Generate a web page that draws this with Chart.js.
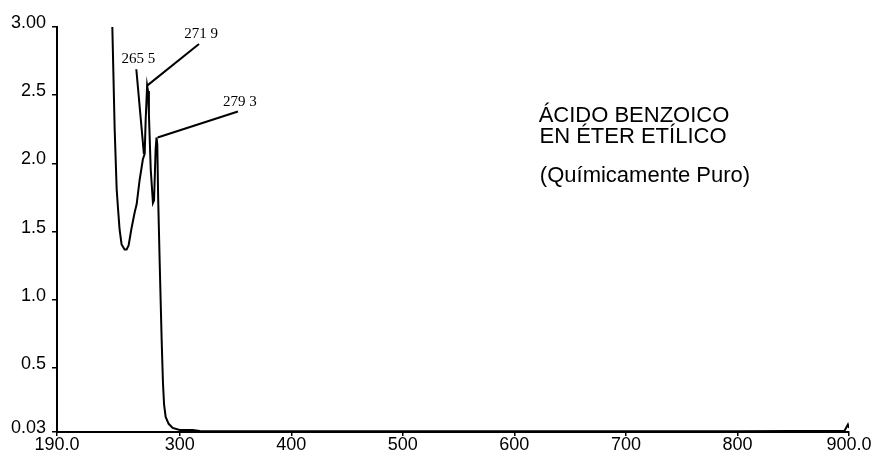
<!DOCTYPE html>
<html>
<head>
<meta charset="utf-8">
<script src="https://cdn.jsdelivr.net/npm/chart.js@4.4.1/dist/chart.umd.min.js"></script>
<style>
  html, body { margin: 0; padding: 0; background: #fff; }
  #wrap { width: 881px; height: 461px; position: relative; }
</style>
</head>
<body>
<div id="wrap"><canvas id="spectrum"></canvas></div>
<script>
// UV spectrum - benzoic acid in ethyl ether

const wavelengths = [239.6, 241.7, 243.5, 244.6, 246.1, 247.9, 250.6, 252.4, 254.2, 256.6,
  259.6, 261.4, 264.1, 267.0, 268.6, 269.5, 270.8, 271.6, 272.4, 274.0,
  276.0, 277.0, 278.4, 279.2, 279.9, 280.7, 282.0, 282.9, 283.8, 285.0,
  286.0, 287.4, 290.1, 293.7, 300.0, 311.6, 318.0, 400, 500, 600,
  700, 800, 896, 899, 900];
const absorbance = [3.0, 2.25, 1.81, 1.68, 1.515, 1.405, 1.368, 1.368, 1.398, 1.515,
  1.64, 1.70, 1.88, 2.03, 2.07, 2.32, 2.57, 2.53, 2.36, 1.96,
  1.71, 1.73, 2.10, 2.19, 2.14, 1.74, 1.29, 1.0, 0.71, 0.39,
  0.23, 0.14, 0.09, 0.06, 0.045, 0.045, 0.037, 0.035, 0.036, 0.035,
  0.036, 0.035, 0.04, 0.085, 0.06];

const xTicks = [190, 300, 400, 500, 600, 700, 800, 900];
const xTickLabels = ['190.0', '300', '400', '500', '600', '700', '800', '900.0'];
const yTicks = [0.03, 0.5, 1.0, 1.5, 2.0, 2.5, 3.0];
const yTickLabels = ['0.03', '0.5', '1.0', '1.5', '2.0', '2.5', '3.00'];

// peak labels: leader line from the curve to the label
const peakLabels = ['265 5', '271 9', '279 3'];
const peakFrom = [[267.9, 2.07], [270.8, 2.57], [280.2, 2.19]];
const peakTo = [[261.1, 2.69], [317.3, 2.875], [352.2, 2.38]];

const titleLines = ['ÁCIDO BENZOICO', 'EN ÉTER ETÍLICO', '(Químicamente Puro)'];

const points = wavelengths.map((w, i) => ({ x: w, y: absorbance[i] }));

const notes = {
  id: 'notes',
  afterDatasetsDraw(chart) {
    const ctx = chart.ctx;
    const xs = chart.scales.x, ys = chart.scales.y;
    ctx.save();
    ctx.strokeStyle = '#000';
    ctx.lineWidth = 2;
    ctx.fillStyle = '#000';
    ctx.font = '15px "Liberation Serif", "Times New Roman", serif';
    ctx.textAlign = 'center';
    ctx.textBaseline = 'alphabetic';
    peakLabels.forEach((txt, i) => {
      const x1 = xs.getPixelForValue(peakFrom[i][0]);
      const y1 = ys.getPixelForValue(peakFrom[i][1]);
      const x2 = xs.getPixelForValue(peakTo[i][0]);
      const y2 = ys.getPixelForValue(peakTo[i][1]);
      ctx.beginPath();
      ctx.moveTo(x1, y1);
      ctx.lineTo(x2, y2);
      ctx.stroke();
      ctx.fillText(txt, x2 + 2, y2 - 6);
    });

    ctx.font = '22px "Liberation Sans", Arial, sans-serif';
    ctx.fillText(titleLines[0], 634, 122);
    ctx.fillText(titleLines[1], 633, 143);
    ctx.fillText(titleLines[2], 645, 182);
    ctx.restore();
  }
};

new Chart(document.getElementById('spectrum'), {
  type: 'line',
  data: {
    datasets: [{
      data: points,
      borderColor: '#000',
      borderWidth: 2,
      pointRadius: 0,
      tension: 0,
      fill: false
    }]
  },
  options: {
    responsive: true,
    maintainAspectRatio: false,
    animation: false,
    layout: { padding: { top: 27, right: 32, left: 0, bottom: 0 } },
    plugins: { legend: { display: false }, tooltip: { enabled: false } },
    scales: {
      x: {
        type: 'linear',
        min: 190,
        max: 900,
        afterBuildTicks: (scale) => { scale.ticks = xTicks.map(v => ({ value: v })); },
        afterFit: (scale) => { scale.height = 29; },
        ticks: {
          autoSkip: false,
          maxRotation: 0,
          padding: -2,
          color: '#000',
          font: { family: '"Liberation Sans", Arial, sans-serif', size: 18 },
          callback: (v) => xTickLabels[xTicks.indexOf(v)]
        },
        grid: { drawOnChartArea: false, drawTicks: true, tickLength: 4, color: '#000', lineWidth: 1.5 },
        border: { display: true, color: '#000', width: 2 }
      },
      y: {
        min: 0.03,
        max: 3.0,
        afterBuildTicks: (scale) => { scale.ticks = yTicks.map(v => ({ value: v })); },
        afterFit: (scale) => { scale.width = 57; },
        ticks: {
          autoSkip: false,
          padding: 6,
          labelOffset: -4,
          color: '#000',
          font: { family: '"Liberation Sans", Arial, sans-serif', size: 18 },
          callback: (v) => yTickLabels[yTicks.indexOf(v)]
        },
        grid: { drawOnChartArea: false, drawTicks: true, tickLength: 5, color: '#000', lineWidth: 1.5 },
        border: { display: true, color: '#000', width: 2 }
      }
    }
  },
  plugins: [notes]
});
</script>
</body>
</html>
